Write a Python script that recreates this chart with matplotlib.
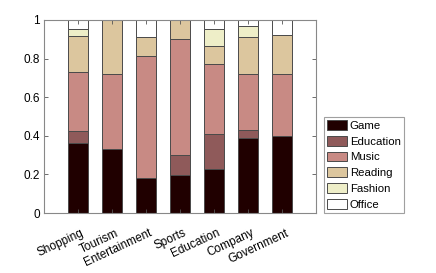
import matplotlib
matplotlib.use("Agg")
import matplotlib.pyplot as plt
import matplotlib.transforms as mtransforms
import numpy as np

plt.rcParams['font.family'] = ['Liberation Sans', 'DejaVu Sans']

categories = ["Shopping", "Tourism", "Entertainment", "Sports", "Education", "Company", "Government"]
series_names = ["Game", "Education", "Music", "Reading", "Fashion", "Office"]

game = [0.365, 0.332, 0.182, 0.199, 0.227, 0.391, 0.400]
education = [0.061, 0.0, 0.0, 0.099, 0.181, 0.038, 0.0]
music = [0.306, 0.388, 0.633, 0.602, 0.364, 0.292, 0.318]
reading = [0.183, 0.280, 0.095, 0.100, 0.091, 0.189, 0.202]
fashion = [0.038, 0.0, 0.0, 0.0, 0.090, 0.059, 0.0]
office = [0.047, 0.0, 0.090, 0.0, 0.047, 0.031, 0.080]

colors = ["#200000", "#8f5a5a", "#c88a84", "#dcc69e", "#eeeec8", "#ffffff"]
yticks = [0, 0.2, 0.4, 0.6, 0.8, 1]
ytick_labels = ["0", "0.2", "0.4", "0.6", "0.8", "1"]

fig = plt.figure(figsize=(4.36, 2.73), dpi=100)
ax = fig.add_axes([44 / 436, 1 - 213 / 273, 272 / 436, 193 / 273])

x = np.arange(1, len(categories) + 1)
bottom = np.zeros(len(categories))
for name, vals, c in zip(series_names, [game, education, music, reading, fashion, office], colors):
    vals = np.array(vals)
    ax.bar(x, vals, width=0.6, bottom=bottom, color=c, edgecolor="#4a4a4a",
           linewidth=0.7, label=name)
    bottom += vals

ax.set_xlim(0, 8)
ax.set_ylim(0, 1)
ax.set_yticks(yticks)
ax.set_yticklabels(ytick_labels)
ax.set_xticks(x)
ax.set_xticklabels(categories, rotation=25, ha="right", rotation_mode="anchor")
ax.tick_params(direction="in", top=True, right=True, length=3, width=0.6,
               color="#555555", labelsize=8.5, pad=3)
ax.tick_params(axis="x", pad=10)
shift = mtransforms.ScaledTranslation(0.03, 0, fig.dpi_scale_trans)
for lbl in ax.get_xticklabels():
    lbl.set_transform(lbl.get_transform() + shift)
for s in ax.spines.values():
    s.set_color("#888888")
    s.set_linewidth(0.8)

leg = ax.legend(loc="lower left", bbox_to_anchor=(324 / 436, 1 - 213 / 273),
                bbox_transform=fig.transFigure, fontsize=8.2, frameon=True,
                fancybox=False, edgecolor="#888888", borderpad=0.3,
                labelspacing=0.43, handlelength=1.7, handleheight=0.95,
                handletextpad=0.25, borderaxespad=0)
leg.get_frame().set_linewidth(0.8)

fig.savefig("out.png", dpi=100)
